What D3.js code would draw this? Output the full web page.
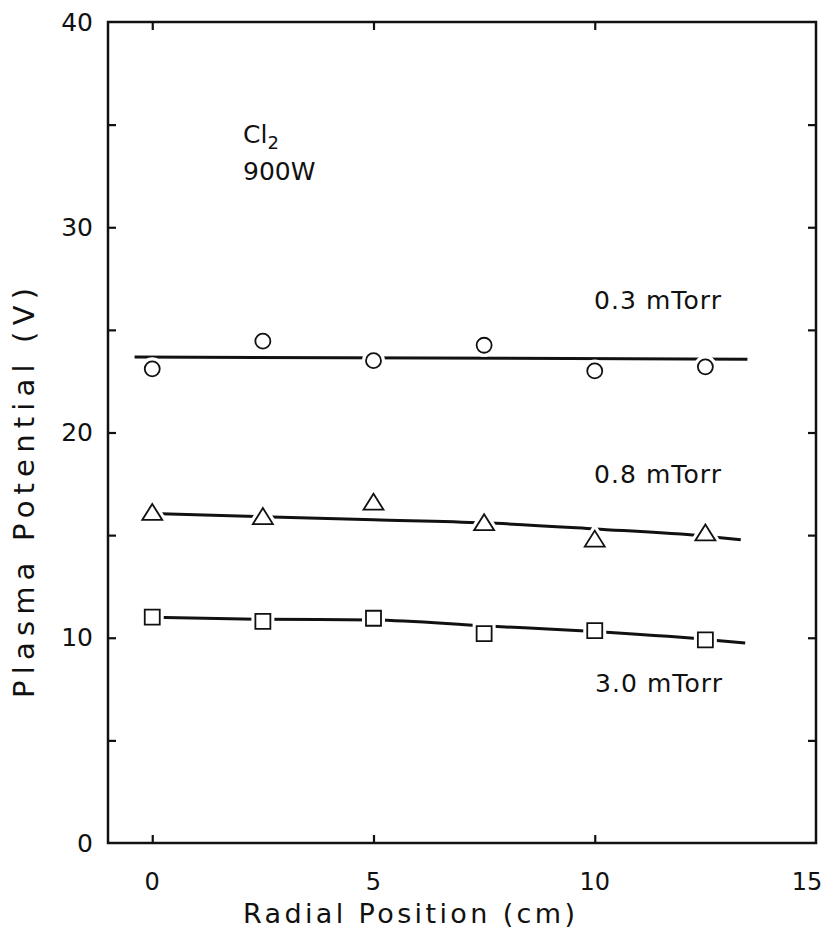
<!DOCTYPE html>
<html>
<head>
<meta charset="utf-8">
<script src="https://cdn.jsdelivr.net/npm/d3@7"></script>
<style>
  html, body { margin: 0; padding: 0; background: #fff; }
  svg { display: block; }
  text { font-family: "DejaVu Sans", sans-serif; fill: #111; }
</style>
</head>
<body>
<svg id="chart" width="829" height="936"></svg>
<script>
// Radial positions (cm) where the probe was read
const positions = [0, 2.5, 5, 7.5, 10, 12.5];

// Measured plasma potential (V) for each pressure
const p03 = [23.1, 24.45, 23.5, 24.25, 23.0, 23.2];   // 0.3 mTorr, circles
const p08 = [16.0, 15.8, 16.5, 15.5, 14.7, 15.0];     // 0.8 mTorr, triangles
const p30 = [11.0, 10.8, 10.95, 10.2, 10.35, 9.9];    // 3.0 mTorr, squares

// Hand-drawn trend lines
const fit03X = [-0.4, 13.45];
const fit03Y = [23.68, 23.57];
const fit08X = [0, 2.5, 5, 7.5, 10, 12.5, 13.3];
const fit08Y = [16.05, 15.9, 15.75, 15.6, 15.3, 14.95, 14.78];
const fit30X = [0, 2.5, 5, 7.5, 10, 12.5, 13.4];
const fit30Y = [11.0, 10.9, 10.87, 10.58, 10.3, 9.92, 9.75];

// Axis ticks
const xTickLabels = [0, 5, 10, 15];
const xTicks = [0, 5, 10];
const yTickLabels = [0, 10, 20, 30, 40];
const yTicks = [5, 10, 15, 20, 25, 30, 35];

const seriesLabels = ["0.3 mTorr", "0.8 mTorr", "3.0 mTorr"];

const svg = d3.select("#chart");
const plotL = 108, plotR = 816, plotT = 22, plotB = 843;

const x = d3.scaleLinear().domain([-1, 15]).range([plotL, plotR]);
const y = d3.scaleLinear().domain([0, 40]).range([plotB, plotT]);

const ink = "#111";

// Frame
svg.append("rect")
  .attr("x", plotL).attr("y", plotT)
  .attr("width", plotR - plotL).attr("height", plotB - plotT)
  .attr("fill", "none").attr("stroke", ink).attr("stroke-width", 2.5);

// Inward ticks on all four sides
const tickLen = 8;
const gAxes = svg.append("g");
gAxes.append("g").attr("transform", `translate(${plotL},0)`)
  .call(d3.axisRight(y).tickValues(yTicks).tickSize(tickLen).tickFormat(""))
  .call(g => g.select(".domain").remove());
gAxes.append("g").attr("transform", `translate(${plotR},0)`)
  .call(d3.axisLeft(y).tickValues(yTicks).tickSize(tickLen).tickFormat(""))
  .call(g => g.select(".domain").remove());
gAxes.append("g").attr("transform", `translate(0,${plotB})`)
  .call(d3.axisTop(x).tickValues(xTicks).tickSize(tickLen).tickFormat(""))
  .call(g => g.select(".domain").remove());
gAxes.append("g").attr("transform", `translate(0,${plotT})`)
  .call(d3.axisBottom(x).tickValues(xTicks).tickSize(tickLen).tickFormat(""))
  .call(g => g.select(".domain").remove());
gAxes.selectAll(".tick line").attr("stroke", ink).attr("stroke-width", 2.2);

// Tick labels (the last one is nudged so it stays inside the page)
svg.append("g").selectAll("text").data(xTickLabels).join("text")
  .attr("x", d => x(d)).attr("y", 890)
  .attr("dx", (d, i) => i === xTickLabels.length - 1 ? -9 : 0)
  .attr("text-anchor", "middle")
  .attr("font-size", 24)
  .text(d => d);
svg.append("g").selectAll("text").data(yTickLabels).join("text")
  .attr("x", 93).attr("y", d => y(d))
  .attr("text-anchor", "end")
  .attr("dominant-baseline", "central")
  .attr("font-size", 25)
  .text(d => d);

// Axis titles
svg.append("text")
  .attr("x", 409).attr("y", 923)
  .attr("text-anchor", "middle")
  .attr("font-size", 27)
  .attr("textLength", 332).attr("lengthAdjust", "spacing")
  .text("Radial Position (cm)");
svg.append("text")
  .attr("transform", "translate(34,493) rotate(-90)")
  .attr("text-anchor", "middle")
  .attr("font-size", 29)
  .attr("textLength", 410).attr("lengthAdjust", "spacing")
  .text("Plasma Potential (V)");

// Condition annotation
const note = svg.append("text").attr("x", 243).attr("y", 143).attr("font-size", 25);
note.append("tspan").text("Cl");
note.append("tspan").attr("font-size", 18).attr("dy", 6).text("2");
svg.append("text").attr("x", 243).attr("y", 180).attr("font-size", 25).text("900W");

// Trend lines
const line = d3.line().x(d => x(d[0])).y(d => y(d[1])).curve(d3.curveMonotoneX);
[[fit03X, fit03Y], [fit08X, fit08Y], [fit30X, fit30Y]].forEach(([fx, fy]) => {
  svg.append("path")
    .datum(fx.map((v, i) => [v, fy[i]]))
    .attr("d", line)
    .attr("fill", "none").attr("stroke", ink).attr("stroke-width", 3);
});

// Slightly flattened triangle: 20 px wide, 16 px tall, centred on its centroid
const flatTriangle = {
  draw(ctx) {
    const w = 20, h = 16;
    ctx.moveTo(0, -h * 2 / 3);
    ctx.lineTo(w / 2, h / 3);
    ctx.lineTo(-w / 2, h / 3);
    ctx.closePath();
  }
};

// Markers: a white halo first so the line breaks around each symbol
const circleSym = d3.symbol().type(d3.symbolCircle).size(Math.PI * 7.5 * 7.5);
const triSym = d3.symbol().type(flatTriangle);
const sqSym = d3.symbol().type(d3.symbolSquare).size(15 * 15);

function drawMarkers(vals, sym) {
  const g = svg.append("g");
  const pts = positions.map((p, i) => [p, vals[i]]);
  g.selectAll("path.halo").data(pts).join("path").attr("class", "halo")
    .attr("transform", d => `translate(${x(d[0])},${y(d[1])})`)
    .attr("d", sym)
    .attr("fill", "#fff").attr("stroke", "#fff").attr("stroke-width", 8);
  g.selectAll("path.mark").data(pts).join("path").attr("class", "mark")
    .attr("transform", d => `translate(${x(d[0])},${y(d[1])})`)
    .attr("d", sym)
    .attr("fill", "#fff").attr("stroke", ink).attr("stroke-width", 1.8);
}
drawMarkers(p03, circleSym);
drawMarkers(p08, triSym);
drawMarkers(p30, sqSym);

// Pressure labels
const labelPos = [[594, 309], [594, 483], [595, 692]];
svg.append("g").selectAll("text").data(seriesLabels).join("text")
  .attr("x", (d, i) => labelPos[i][0]).attr("y", (d, i) => labelPos[i][1])
  .attr("font-size", 25)
  .attr("textLength", 127).attr("lengthAdjust", "spacing")
  .text(d => d);
</script>
</body>
</html>
